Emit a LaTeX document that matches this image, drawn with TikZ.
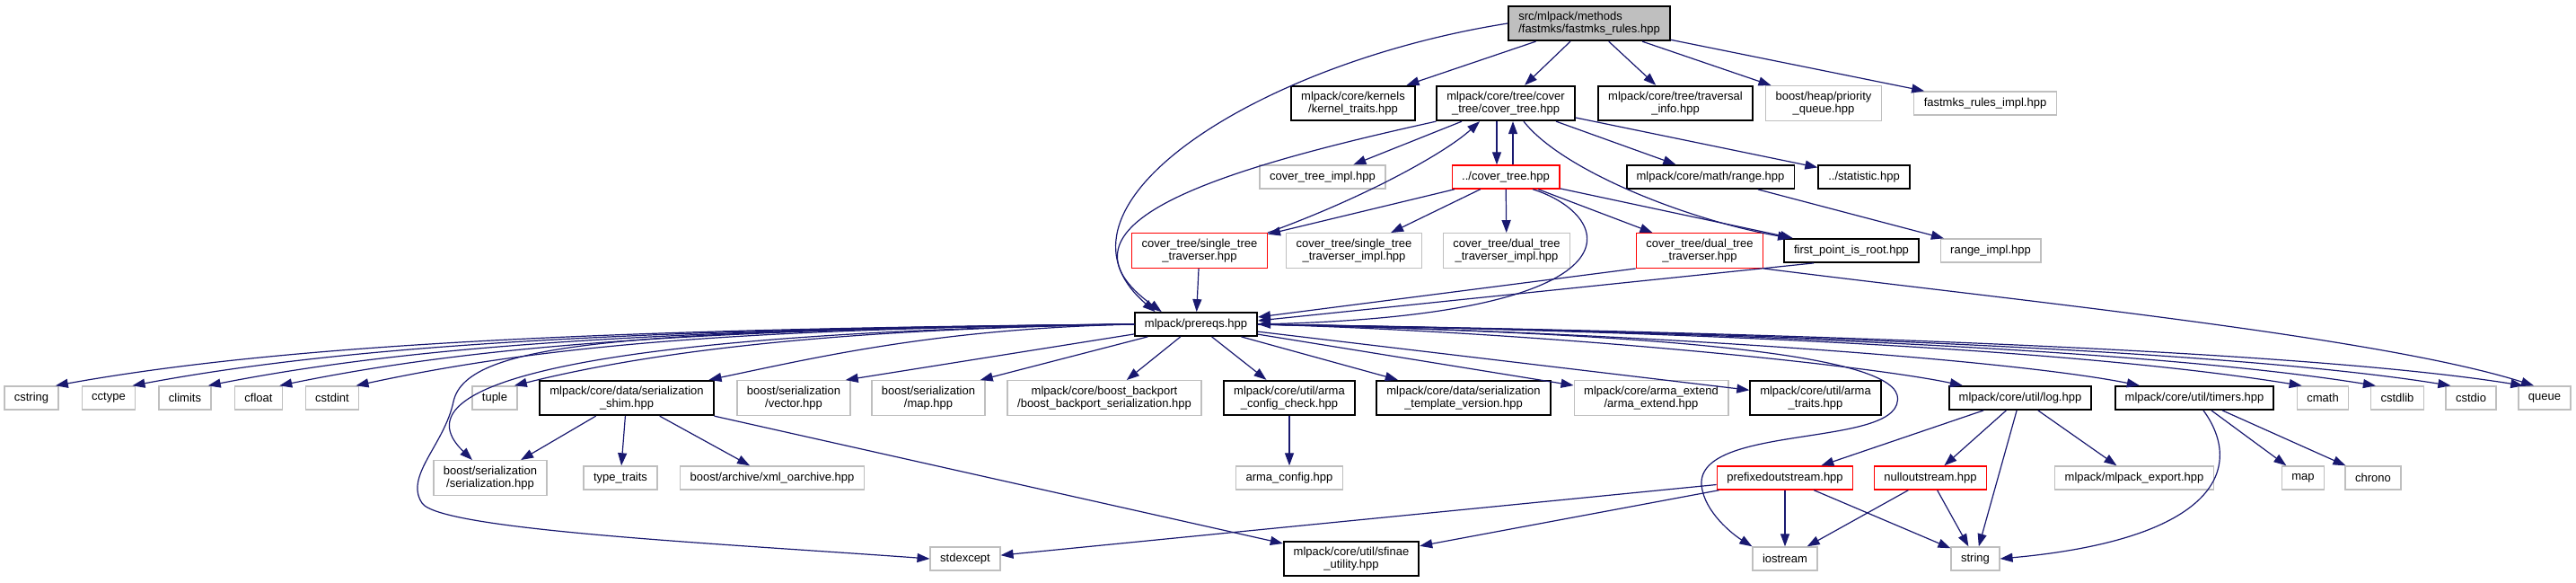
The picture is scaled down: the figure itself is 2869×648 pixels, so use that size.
\documentclass[tikz,border=0pt]{standalone}
\usepackage{fontspec}
\setmainfont{Liberation Sans}
\usepackage{tikz}
\usetikzlibrary{arrows.meta,calc}
\usepackage{xcolor}
\definecolor{EdgeBlue}{RGB}{25,25,112}
\definecolor{BoxGray}{RGB}{191,191,191}
\definecolor{BoxRed}{RGB}{255,0,0}

\begin{document}
\begin{tikzpicture}[x=0.5pt,y=-0.5pt,
  hbox/.style={rectangle,inner xsep=5.5pt,inner ysep=3pt,minimum height=13pt,
               font=\fontsize{6.5}{7.2}\selectfont,align=center,text=black},
  docbox/.style={hbox,draw=black,line width=0.9pt},
  extbox/.style={hbox,draw=BoxGray,line width=0.7pt},
  cutbox/.style={hbox,draw=BoxRed,line width=0.7pt},
  rootbox/.style={hbox,draw=black,fill=BoxGray,line width=0.9pt,align=left},
  dep/.style={-{Triangle[length=7pt,width=5pt]},draw=EdgeBlue,line width=0.6pt},
]
\fill[white] (0,0) rectangle (2869,648);
\useasboundingbox (0,0) rectangle (2869,648);

% root and first level
\node[rootbox] (rules) at (1770,26) {src/mlpack/methods\\/fastmks/fastmks\_rules.hpp};
\node[docbox] (kerntraits) at (1507,115) {mlpack/core/kernels\\/kernel\_traits.hpp};
\node[docbox] (covertree) at (1677,115) {mlpack/core/tree/cover\\\_tree/cover\_tree.hpp};
\node[docbox] (travinfo) at (1866,115) {mlpack/core/tree/traversal\\\_info.hpp};
\node[extbox] (prioqueue) at (2031,115) {boost/heap/priority\\\_queue.hpp};
\node[extbox] (rulesimpl) at (2211,115) {fastmks\_rules\_impl.hpp};

% cover tree files
\node[extbox] (ctimpl) at (1473,197) {cover\_tree\_impl.hpp};
\node[cutbox] (ctup) at (1677,197) {../cover\_tree.hpp};
\node[docbox] (rangehpp) at (1905,197) {mlpack/core/math/range.hpp};
\node[docbox] (statistic) at (2076,197) {../statistic.hpp};

\node[cutbox] (sttrav) at (1336,279) {cover\_tree/single\_tree\\\_traverser.hpp};
\node[extbox] (sttimpl) at (1508,279) {cover\_tree/single\_tree\\\_traverser\_impl.hpp};
\node[extbox] (dttimpl) at (1678,279) {cover\_tree/dual\_tree\\\_traverser\_impl.hpp};
\node[cutbox] (dttrav) at (1893,279) {cover\_tree/dual\_tree\\\_traverser.hpp};
\node[docbox] (firstpt) at (2062,279) {first\_point\_is\_root.hpp};
\node[extbox] (rangeimpl) at (2217,279) {range\_impl.hpp};

\node[docbox] (prereqs) at (1332,361) {mlpack/prereqs.hpp};

% everything prereqs pulls in
\node[extbox] (cstring) at (35,443) {cstring};
\node[extbox] (cctype) at (121,443) {cctype};
\node[extbox] (climits) at (206,443) {climits};
\node[extbox] (cfloat) at (288,443) {cfloat};
\node[extbox] (cstdint) at (370,443) {cstdint};
\node[extbox] (tuple) at (551,443) {tuple};
\node[docbox] (shim) at (698,443) {mlpack/core/data/serialization\\\_shim.hpp};
\node[extbox] (bsvector) at (884,443) {boost/serialization\\/vector.hpp};
\node[extbox] (bsmap) at (1034,443) {boost/serialization\\/map.hpp};
\node[extbox] (backport) at (1230,443) {mlpack/core/boost\_backport\\/boost\_backport\_serialization.hpp};
\node[docbox] (armacheck) at (1436,443) {mlpack/core/util/arma\\\_config\_check.hpp};
\node[docbox] (stversion) at (1630,443) {mlpack/core/data/serialization\\\_template\_version.hpp};
\node[extbox] (armaext) at (1839,443) {mlpack/core/arma\_extend\\/arma\_extend.hpp};
\node[docbox] (armatraits) at (2022,443) {mlpack/core/util/arma\\\_traits.hpp};
\node[docbox] (loghpp) at (2250,443) {mlpack/core/util/log.hpp};
\node[docbox] (timers) at (2444,443) {mlpack/core/util/timers.hpp};
\node[extbox] (cmath) at (2587,443) {cmath};
\node[extbox] (cstdlib) at (2670,443) {cstdlib};
\node[extbox] (cstdio) at (2752,443) {cstdio};
\node[extbox] (queue) at (2834,443) {queue};

\node[extbox] (bsserial) at (546,532) {boost/serialization\\/serialization.hpp};
\node[extbox] (typetraits) at (691,532) {type\_traits};
\node[extbox] (xmlarch) at (860,532) {boost/archive/xml\_oarchive.hpp};
\node[extbox] (armaconfig) at (1436,532) {arma\_config.hpp};
\node[cutbox] (prefixed) at (1988,532) {prefixedoutstream.hpp};
\node[cutbox] (nullout) at (2150,532) {nulloutstream.hpp};
\node[extbox] (mlexport) at (2377,532) {mlpack/mlpack\_export.hpp};
\node[extbox] (stdmap) at (2565,532) {map};
\node[extbox] (chrono) at (2643,532) {chrono};

\node[extbox] (stdexcept) at (1075,622) {stdexcept};
\node[docbox] (sfinae) at (1505,622) {mlpack/core/util/sfinae\\\_utility.hpp};
\node[extbox] (iostream) at (1988,622) {iostream};
\node[extbox] (stdstring) at (2200,622) {string};

% root edges
\draw[dep] (rules.west) .. controls (1400,70) and (1150,230) .. (prereqs.163);
\draw[dep] (rules) -- (kerntraits);
\draw[dep] (rules) -- (covertree);
\draw[dep] (rules) -- (travinfo);
\draw[dep] (rules) -- (prioqueue);
\draw[dep] (rules) -- (rulesimpl);

% cover tree edges
\draw[dep] (covertree.south west) .. controls (1350,190) and (1160,250) .. (prereqs.160);
\draw[dep] ([xshift=-24.5pt]covertree.south) -- (ctimpl);
\draw[dep] ([xshift=-5pt]covertree.south) -- ([xshift=-5pt]ctup.north);
\draw[dep] ([xshift=4pt]ctup.north) -- ([xshift=4pt]covertree.south);
\draw[dep] (covertree) -- (rangehpp);
\draw[dep] (covertree) -- (statistic);
\draw[dep] ([xshift=10pt]covertree.south) .. controls (1740,190) and (1880,245) .. ([xshift=4pt]firstpt.north west);

\draw[dep] (ctup) -- (sttrav);
\draw[dep] (ctup) -- (sttimpl);
\draw[dep] (ctup) -- (dttimpl);
\draw[dep] (ctup) -- (dttrav);
\draw[dep] (ctup) -- (firstpt);
\draw[dep] ([xshift=15pt]ctup.south) .. controls (1800,240) and (1840,350) .. (prereqs.east);

\draw[dep] (sttrav) -- (prereqs);
\draw[dep] (sttrav.north east) .. controls (1520,220) and (1610,170) .. ([xshift=-14.5pt]covertree.south);
\draw[dep] (dttrav.south west) -- ([yshift=4pt]prereqs.east);
\draw[dep] (dttrav.south east) .. controls (2250,335) and (2650,375) .. ([xshift=-6pt]queue.north);
\draw[dep] ([xshift=-21pt]firstpt.south) -- ([yshift=2pt]prereqs.east);
\draw[dep] (rangehpp) -- (rangeimpl);

% prereqs fan-out, left side
\draw[dep] (prereqs.west) .. controls +(-600,5) and +(250,-45) .. ([xshift=-2pt]cstring.north east);
\draw[dep] (prereqs.west) .. controls +(-560,5) and +(240,-45) .. ([xshift=-2pt]cctype.north east);
\draw[dep] (prereqs.west) .. controls +(-520,5) and +(230,-45) .. ([xshift=-2pt]climits.north east);
\draw[dep] (prereqs.west) .. controls +(-480,5) and +(220,-45) .. ([xshift=-2pt]cfloat.north east);
\draw[dep] (prereqs.west) .. controls +(-440,5) and +(210,-45) .. ([xshift=-2pt]cstdint.north east);
\draw[dep] (prereqs.west) .. controls +(-320,5) and +(160,-40) .. ([xshift=-2pt]tuple.north east);
\draw[dep] (prereqs.west) .. controls +(-220,5) and +(120,-25) .. ([xshift=-3pt]shim.north east);
\draw[dep] (prereqs) -- ([xshift=-3pt]bsvector.north east);
\draw[dep] (prereqs) -- ([xshift=-3pt]bsmap.north east);
\draw[dep] (prereqs.west) .. controls (700,370) and (430,420) .. ([xshift=-10pt]bsserial.north);
\draw[dep] (prereqs.west) .. controls (700,368) and (520,380) .. (505,447)
  .. controls (495,495) and (450,530) .. (470,560)
  .. controls (490,590) and (800,605) .. (stdexcept.west);

% prereqs fan-out, below and right
\draw[dep] (prereqs) -- (backport);
\draw[dep] (prereqs) -- (armacheck);
\draw[dep] (prereqs) -- (stversion);
\draw[dep] (prereqs) -- (armaext);
\draw[dep] (prereqs) -- (armatraits);
\draw[dep] (prereqs.east) .. controls +(300,8) and +(-120,-25) .. ([xshift=8pt]loghpp.north west);
\draw[dep] (prereqs.east) .. controls +(400,8) and +(-150,-30) .. ([xshift=14pt]timers.north west);
\draw[dep] (prereqs.east) .. controls +(500,8) and +(-250,-40) .. ([xshift=3pt]cmath.north west);
\draw[dep] (prereqs.east) .. controls +(520,8) and +(-250,-40) .. ([xshift=3pt]cstdlib.north west);
\draw[dep] (prereqs.east) .. controls +(540,8) and +(-250,-40) .. ([xshift=3pt]cstdio.north west);
\draw[dep] (prereqs.east) .. controls +(560,8) and +(-250,-40) .. ([xshift=3pt]queue.north west);
\draw[dep] (prereqs.east) .. controls (1800,370) and (2100,390) .. (2113,440)
  .. controls (2125,500) and (1890,470) .. (1895,540)
  .. controls (1898,570) and (1930,595) .. (iostream.north west);

% lower levels
\draw[dep] (shim) -- (bsserial);
\draw[dep] (shim) -- (typetraits);
\draw[dep] (shim) -- (xmlarch);
\draw[dep] (shim.south east) -- (sfinae);
\draw[dep] (armacheck) -- (armaconfig);
\draw[dep] (loghpp) -- (prefixed);
\draw[dep] (loghpp) -- (nullout);
\draw[dep] (loghpp) -- (stdstring);
\draw[dep] (loghpp) -- (mlexport);
\draw[dep] ([xshift=5pt]timers.south) .. controls (2500,520) and (2470,600) .. (stdstring.east);
\draw[dep] (timers) -- (stdmap);
\draw[dep] (timers) -- (chrono);
\draw[dep] (prefixed) -- (stdexcept);
\draw[dep] (prefixed) -- (sfinae);
\draw[dep] (prefixed) -- (iostream);
\draw[dep] (prefixed) -- (stdstring);
\draw[dep] (nullout) -- (iostream);
\draw[dep] (nullout) -- (stdstring);
\end{tikzpicture}
\end{document}
